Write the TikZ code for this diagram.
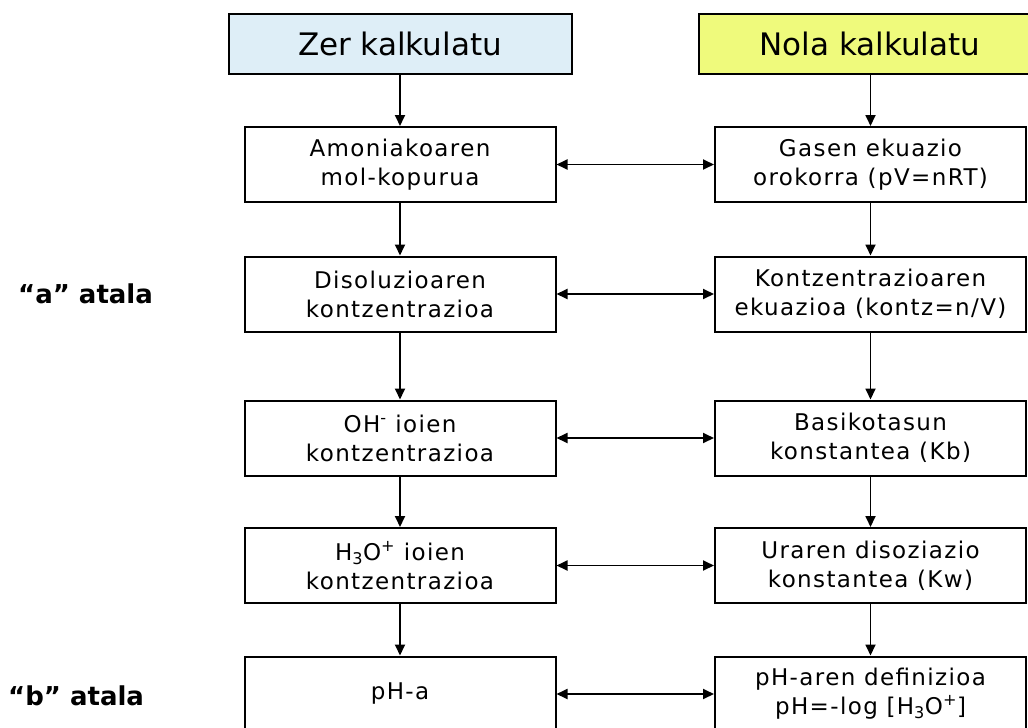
\documentclass[tikz,border=0pt]{standalone}
\usepackage{fontspec}
\setmainfont{DejaVu Sans}
\newfontfamily\boxfont[LetterSpace=6]{DejaVu Sans}
\usepackage{tikz}
\usetikzlibrary{arrows.meta}
\definecolor{zerblue}{RGB}{222,238,247}
\definecolor{nolayellow}{RGB}{239,250,124}
\tikzstyle{headbox} = [draw,line width=2pt,minimum width=343pt,minimum height=60pt,inner sep=0pt,
    font=\fontsize{31}{37}\selectfont]
\tikzstyle{stepbox} = [draw,line width=2pt,minimum width=311pt,minimum height=75pt,inner sep=0pt,
    align=center,font=\boxfont\fontsize{23}{29}\selectfont]
\tikzstyle{flow} = [line width=1.8pt,-{Triangle[length=11pt,width=10pt]}]
\tikzstyle{link} = [line width=1.8pt,{Triangle[length=11pt,width=10pt]}-{Triangle[length=11pt,width=10pt]}]
\tikzstyle{partlabel} = [anchor=base west,inner sep=0pt,font=\bfseries\fontsize{26}{30}\selectfont]
\newcommand{\steprow}[4]{
	\node(what#1) at (400,#2) [stepbox] {#3};
	\node(how#1) at (870.5,#2) [stepbox] {#4};
	\draw[link] (what#1.east) -- (how#1.west);
}

\begin{document}
\begin{tikzpicture}[x=1pt,y=-1pt]
	\useasboundingbox (0,0) rectangle (1028,728);
	
	\node(what0) at (400,43.5) [headbox,fill=zerblue] {Zer kalkulatu};
	\node(how0) at (870,43.5) [headbox,fill=nolayellow] {Nola kalkulatu};
	
	\steprow{1}{164.5}{Amoniakoaren\\mol-kopurua}{Gasen ekuazio\\orokorra (pV=nRT)};
	\steprow{2}{294}{Disoluzioaren\\kontzentrazioa}{Kontzentrazioaren\\ekuazioa (kontz=n/V)};
	\steprow{3}{438}{OH\textsuperscript{-} ioien\\kontzentrazioa}{Basikotasun\\konstantea (Kb)};
	\steprow{4}{565.5}{H\textsubscript{3}O\textsuperscript{+} ioien\\kontzentrazioa}{Uraren disoziazio\\konstantea (Kw)};
	\steprow{5}{694}{pH-a}{pH-aren definizioa\\pH=-log [H\textsubscript{3}O\textsuperscript{+}]};
	
	\draw[flow] (what0) -- (what1);
	\draw[flow] (what1) -- (what2);
	\draw[flow] (what2) -- (what3);
	\draw[flow] (what3) -- (what4);
	\draw[flow] (what4) -- (what5);
	\draw[flow] (how0.south -| how1.north) -- (how1);
	\draw[flow] (how1) -- (how2);
	\draw[flow] (how2) -- (how3);
	\draw[flow] (how3) -- (how4);
	\draw[flow] (how4) -- (how5);
	
	\node(parta) at (18,303) [partlabel] {“a” atala};
	\node(partb) at (8,705) [partlabel] {“b” atala};
\end{tikzpicture}
\end{document}
